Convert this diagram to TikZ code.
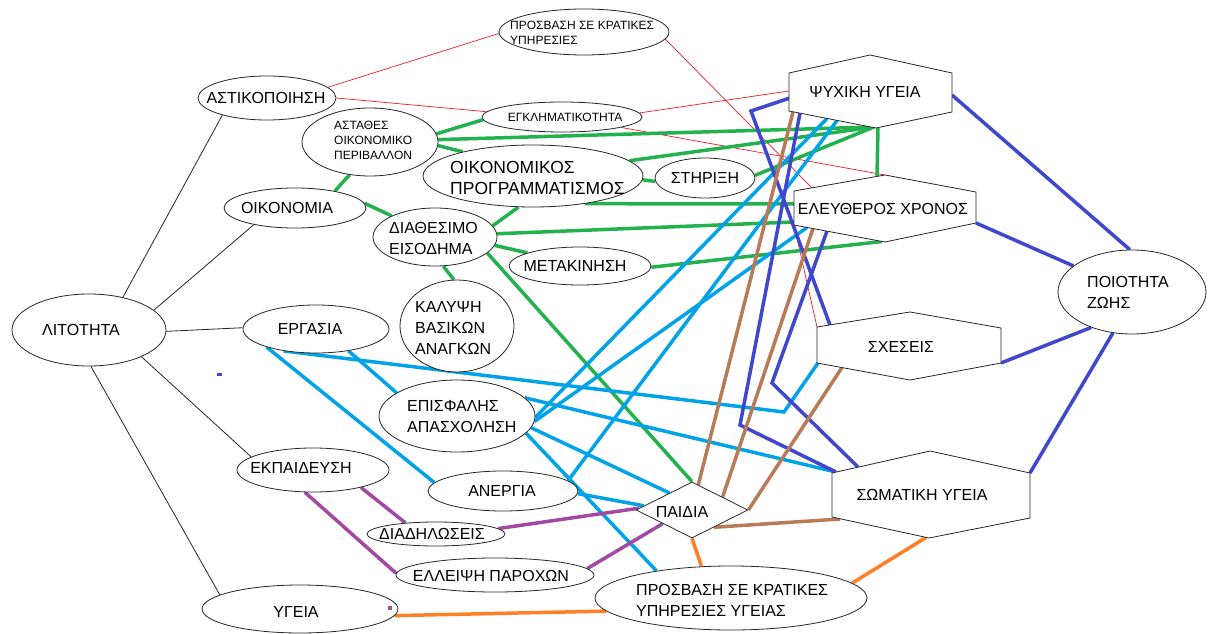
\documentclass[tikz,border=0pt]{standalone}
\usepackage{fontspec}
\setmainfont{Liberation Sans}
\usetikzlibrary{shapes.geometric,backgrounds}
\definecolor{pgreen}{HTML}{22B14C}
\definecolor{pcyan}{HTML}{00A2E8}
\definecolor{pblue}{HTML}{3F48CC}
\definecolor{pbrown}{HTML}{B97A57}
\definecolor{porange}{HTML}{FF7F27}
\definecolor{ppurple}{HTML}{A349A4}
\definecolor{pred}{HTML}{ED1C24}
\tikzset{
  ell/.style={ellipse, draw=black!85, line width=0.8pt, fill=white, inner sep=0pt},
  hexa/.style={draw=black!85, line width=0.8pt, fill=white},
  txt/.style={inner sep=0pt, font=\fontsize{16}{21}\selectfont},
  txts/.style={inner sep=0pt, font=\fontsize{12}{15}\selectfont},
  txtb/.style={inner sep=0pt, font=\fontsize{17.5}{21}\selectfont},
  blk/.style={line width=0.8pt, black!85},
  rl/.style={line width=0.7pt, pred},
  gl/.style={line width=3.5pt, pgreen},
  cl/.style={line width=3.5pt, pcyan},
  bl/.style={line width=3.5pt, pblue},
  brl/.style={line width=3.5pt, pbrown},
  ol/.style={line width=3.5pt, porange},
  pl/.style={line width=3.5pt, ppurple}
}
\begin{document}
\begin{tikzpicture}[x=1pt,y=-1pt]
\useasboundingbox (0,0) rectangle (1211,634);
\begin{scope}[on background layer]
\fill[white] (0,0) rectangle (1211,634);
\end{scope}

% ellipses
\node[ell, minimum width=154, minimum height=72] (lit) at (89,330) {};
\node[ell, minimum width=138, minimum height=44] (ast) at (267,98) {};
\node[ell, minimum width=170, minimum height=46] (prk) at (584,32) {};
\node[ell, minimum width=160, minimum height=30] (egk) at (562,117) {};
\node[ell, minimum width=136, minimum height=68] (ast2) at (370,142) {};
\node[ell, minimum width=220, minimum height=62] (oikp) at (533,176) {};
\node[ell, minimum width=100, minimum height=40] (stir) at (705,178) {};
\node[ell, minimum width=142, minimum height=40] (oik) at (295,208) {};
\node[ell, minimum width=124, minimum height=58] (diat) at (435,237) {};
\node[ell, minimum width=142, minimum height=38] (met) at (580,266) {};
\node[ell, minimum width=114, minimum height=92] (kal) at (457,326) {};
\node[ell, minimum width=146, minimum height=48] (erg) at (316,329) {};
\node[ell, minimum width=156, minimum height=72] (epis) at (457,416) {};
\node[ell, minimum width=152, minimum height=44] (ekp) at (313,470) {};
\node[ell, minimum width=150, minimum height=40] (aner) at (503,491) {};
\node[ell, minimum width=138, minimum height=24] (diad) at (436,534) {};
\node[ell, minimum width=198, minimum height=34] (elle) at (495,575) {};
\node[ell, minimum width=196, minimum height=48] (ygeia) at (300,609) {};
\node[ell, minimum width=272, minimum height=64] (pryg) at (731,598) {};
\node[ell, minimum width=148, minimum height=84] (poi) at (1132,292) {};
\node[diamond, draw=black!85, line width=0.8pt, fill=white, inner sep=0pt, aspect=2,
      minimum width=112, minimum height=56] (paid) at (692,510) {};

% hexagons
\draw[hexa] (870,55) -- (789,73) -- (789,111) -- (876,128) -- (952,112) -- (952,73) -- cycle;
\draw[hexa] (885,175) -- (794,191) -- (794,225) -- (885,242) -- (976,223) -- (976,192) -- cycle;
\draw[hexa] (910,312) -- (817,327) -- (817,363) -- (910,380) -- (1001,363) -- (1001,328) -- cycle;
\draw[hexa] (930,451) -- (832,473) -- (832,517) -- (929,538) -- (1030,518) -- (1030,473) -- cycle;

% connector ends on the hexagons
\coordinate (psyR) at (952,95);
\coordinate (psyB) at (874,127);
\coordinate (psyBv) at (878,128);
\coordinate (psyL) at (789,91);
\coordinate (psyL2) at (790,98);
\coordinate (psyLL1) at (800,113);
\coordinate (psyLL2) at (793,112);
\coordinate (psyC1) at (827,118.5);
\coordinate (psyC2) at (837,120.5);
\coordinate (eleUL) at (812,188);
\coordinate (eleT) at (885,175);
\coordinate (eleT2) at (877,176.5);
\coordinate (eleL1) at (794,204);
\coordinate (eleL2) at (794,222);
\coordinate (eleB) at (882,241.5);
\coordinate (eleR) at (976,223);
\coordinate (eleLL1) at (807,227.5);
\coordinate (eleLL2) at (827,231);
\coordinate (eleLL3) at (813,228.5);
\coordinate (eleLLv) at (794,225);
\coordinate (sxeUL) at (817,327);
\coordinate (sxeUL2) at (830,325);
\coordinate (sxeLL) at (818,363);
\coordinate (sxeLL2) at (842,367.5);
\coordinate (sxeR) at (1001,363);
\coordinate (somUL1) at (836,472);
\coordinate (somUL2) at (858,467);
\coordinate (somUR) at (1030,473);
\coordinate (somLL) at (840,519);
\coordinate (somB) at (926,537.5);
\coordinate (c2bend) at (784,412);
\coordinate (u5bend) at (751,111);
\coordinate (u6bend) at (740,425);
\coordinate (u7bend) at (772,383);

% texts
\node[txt] (lit-t) at (81,330) {ΛΙΤΟΤΗΤΑ};
\node[txt] (ast-t) at (266,98) {ΑΣΤΙΚΟΠΟΙΗΣΗ};
\node[txts, anchor=west, align=left] (prk-t) at (510,32.5) {ΠΡΟΣΒΑΣΗ ΣΕ ΚΡΑΤΙΚΕΣ\\ΥΠΗΡΕΣΙΕΣ};
\node[txts] (egk-t) at (565,117) {ΕΓΚΛΗΜΑΤΙΚΟΤΗΤΑ};
\node[txts, anchor=west, align=left] (ast2-t) at (334,140) {ΑΣΤΑΘΕΣ\\ΟΙΚΟΝΟΜΙΚΟ\\ΠΕΡΙΒΑΛΛΟΝ};
\node[txtb, anchor=west, align=left] (oikp-t) at (450,177.5) {ΟΙΚΟΝΟΜΙΚΟΣ\\ΠΡΟΓΡΑΜΜΑΤΙΣΜΟΣ};
\node[txt] (stir-t) at (705,178) {ΣΤΗΡΙΞΗ};
\node[txt] (oik-t) at (287,208) {ΟΙΚΟΝΟΜΙΑ};
\node[txt, anchor=west, align=left] (diat-t) at (389,238.5) {ΔΙΑΘΕΣΙΜΟ\\ΕΙΣΟΔΗΜΑ};
\node[txt] (met-t) at (575,266) {ΜΕΤΑΚΙΝΗΣΗ};
\node[txt, anchor=west, align=left] (kal-t) at (415,327.5) {ΚΑΛΥΨΗ\\ΒΑΣΙΚΩΝ\\ΑΝΑΓΚΩΝ};
\node[txt] (erg-t) at (310,329) {ΕΡΓΑΣΙΑ};
\node[txt, anchor=west, align=left] (epis-t) at (407,417) {ΕΠΙΣΦΑΛΗΣ\\ΑΠΑΣΧΟΛΗΣΗ};
\node[txt] (ekp-t) at (301,468) {ΕΚΠΑΙΔΕΥΣΗ};
\node[txt] (aner-t) at (502,491) {ΑΝΕΡΓΙΑ};
\node[txt] (diad-t) at (432,534) {ΔΙΑΔΗΛΩΣΕΙΣ};
\node[txt] (elle-t) at (491,576) {ΕΛΛΕΙΨΗ ΠΑΡΟΧΩΝ};
\node[txt] (ygeia-t) at (296,612) {ΥΓΕΙΑ};
\node[txt, anchor=west, align=left] (pryg-t) at (636,600.5) {ΠΡΟΣΒΑΣΗ ΣΕ ΚΡΑΤΙΚΕΣ\\ΥΠΗΡΕΣΙΕΣ ΥΓΕΙΑΣ};
\node[txt] (paid-t) at (682,512) {ΠΑΙΔΙΑ};
\node[txt] (psy-t) at (865,92) {ΨΥΧΙΚΗ ΥΓΕΙΑ};
\node[txt] (ele-t) at (883,209) {ΕΛΕΥΘΕΡΟΣ ΧΡΟΝΟΣ};
\node[txt, anchor=west, align=left] (poi-t) at (1087,292.5) {ΠΟΙΟΤΗΤΑ\\ΖΩΗΣ};
\node[txt] (sxe-t) at (901,347) {ΣΧΕΣΕΙΣ};
\node[txt] (som-t) at (922,495) {ΣΩΜΑΤΙΚΗ ΥΓΕΙΑ};

\begin{scope}[on background layer]
% black
\draw[blk] (lit.44) -- (ast.201);
\draw[blk] (lit.17) -- (oik.202);
\draw[blk] (lit.359) -- (erg.179);
\draw[blk] (lit.333) -- (ekp.168);
\draw[blk] (lit.273) -- (ygeia.170);
% red
\draw[rl] (ast.10) -- (prk.181);
\draw[rl] (ast.0) -- (egk.176);
\draw[rl] (prk.355) -- (eleUL);
\draw[rl] (egk.3) -- (psyL);
\draw[rl] (egk.350) -- (eleT);
\draw[rl] (eleLLv) -- (sxeUL);
% green
\draw[gl] (ast2.7) -- (egk.182);
\draw[gl] (ast2.2) -- (psyB);
\draw[gl] (ast2.357) -- (oikp.161);
\draw[gl] (ast2.238) -- (oik.23);
\draw[gl] (oik.4) -- (diat.154);
\draw[gl] (oikp.9) -- (psyB);
\draw[gl] (oikp.358) -- (stir.184);
\draw[gl] (oikp.332) -- (eleL1);
\draw[gl] (stir.3) -- (psyB);
\draw[gl] (diat.11) -- (oikp.245);
\draw[gl] (diat.3) -- (eleL2);
\draw[gl] (diat.352) -- (met.166);
\draw[gl] (met.359) -- (eleB);
\draw[gl] (diat.286) -- (kal.94);
\draw[gl] (diat.343) -- (paid.north);
\draw[gl] (psyBv) -- (eleT2);
% cyan
\draw[cl] (erg.200) -- (aner.173);
\draw[cl] (erg.214) -- (c2bend) -- (sxeLL);
\draw[cl] (erg.326) -- (epis.159);
\draw[cl] (epis.15) -- (somUL1);
\draw[cl] (epis.359) -- (psyC1);
\draw[cl] (epis.356) -- (eleLL1);
\draw[cl] (epis.351) -- (paid.143);
\draw[cl] (epis.346) -- (pryg.160);
\draw[cl] (aner.9) -- (psyC2);
\draw[cl] (aner.358) -- (paid.175);
% blue
\draw[bl] (psyR) -- (poi.93);
\draw[bl] (eleR) -- (poi.156);
\draw[bl] (sxeR) -- (poi.221);
\draw[bl] (somUR) -- (poi.245);
\draw[bl] (psyL2) -- (u5bend) -- (sxeUL2);
\draw[bl] (psyLL1) -- (u6bend) -- (somUL1);
\draw[bl] (eleLL2) -- (u7bend) -- (somUL2);
% brown
\draw[brl] (psyLL2) -- (paid.76);
\draw[brl] (eleLL3) -- (paid.23);
\draw[brl] (sxeLL2) -- (paid.east);
\draw[brl] (somLL) -- (paid.322);
% orange
\draw[ol] (paid.south) -- (pryg.133);
\draw[ol] (somB) -- (pryg.7);
\draw[ol] (ygeia.356) -- (pryg.186);
% purple
\draw[pl] (ekp.340) -- (diad.160);
\draw[pl] (ekp.250) -- (elle.179);
\draw[pl] (diad.5) -- (paid.178);
\draw[pl] (elle.4) -- (paid.205);
\end{scope}
% stray marks
\fill[pblue] (216.5,372.5) rectangle (221.5,375.5);
\fill[ppurple] (388,606) rectangle (391.5,610);
\end{tikzpicture}
\end{document}
